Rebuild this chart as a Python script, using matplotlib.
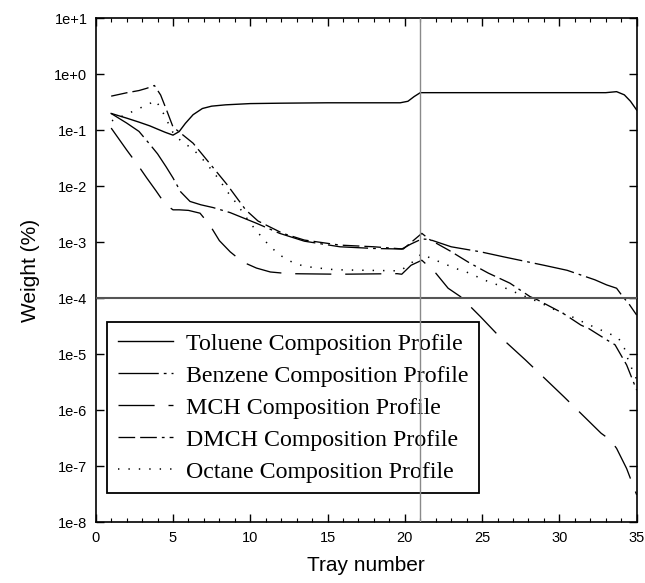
import numpy as np
import matplotlib
matplotlib.use("Agg")
import matplotlib.pyplot as plt

plt.rcParams['lines.scale_dashes'] = False

# ---------------- data (tray, log10 weight) ----------------
tol_x = [1, 2, 2.8, 3.5, 4.0, 4.5, 5.0, 5.4, 5.8, 6.3, 6.9, 7.5, 8.4, 10, 12, 15, 18, 19.7, 20.2, 20.6, 21, 22, 25, 30, 33, 33.7, 34.2, 34.6, 35]
tol_v = [0.20, 0.165, 0.14, 0.12, 0.105, 0.092, 0.082, 0.095, 0.133, 0.19, 0.245, 0.27, 0.285, 0.30, 0.305, 0.31, 0.31, 0.31, 0.33, 0.40, 0.47, 0.47, 0.47, 0.47, 0.47, 0.49, 0.43, 0.33, 0.23]

ben_x = [1.0, 2.0, 2.8, 3.5, 4.0, 4.55, 5.0, 5.5, 6.1, 6.8, 7.6, 8.7, 10.4, 11.9, 13.5, 15.8, 18, 19.8, 20.4, 21.1, 21.6, 23.0, 24.9, 26.4, 29, 30.5, 32.3, 33.05, 33.7, 34.1, 34.5, 35]
ben_log = [-0.70, -0.87, -1.02, -1.25, -1.42, -1.65, -1.85, -2.10, -2.27, -2.33, -2.38, -2.47, -2.66, -2.84, -2.98, -3.08, -3.11, -3.12, -3.03, -2.94, -2.95, -3.08, -3.17, -3.26, -3.41, -3.50, -3.67, -3.76, -3.82, -3.97, -4.10, -4.30]

mch_x = [1.0, 2.0, 2.8, 3.3, 3.9, 4.3, 4.7, 5.0, 5.4, 6.0, 6.75, 7.4, 8.0, 8.7, 9.5, 10.4, 11.3, 12.5, 15.8, 19.5, 19.8, 20.4, 21.1, 22.0, 22.8, 23.6, 24.9, 25.9, 27.8, 30.3, 32.7, 33.3, 33.7, 34.35, 35]
mch_log = [-0.96, -1.35, -1.65, -1.85, -2.08, -2.24, -2.36, -2.42, -2.42, -2.43, -2.48, -2.70, -2.97, -3.17, -3.35, -3.46, -3.53, -3.56, -3.57, -3.56, -3.57, -3.41, -3.32, -3.55, -3.82, -3.97, -4.33, -4.62, -5.10, -5.76, -6.41, -6.53, -6.68, -7.04, -7.51]

dmch_x = [1.0, 2.0, 2.8, 3.3, 3.8, 4.2, 4.6, 5.0, 6.3, 7.4, 8.5, 9.7, 10.5, 12.1, 13.5, 15.8, 18, 19.9, 20.5, 21.1, 21.6, 22.9, 24.2, 25.4, 26.8, 28.1, 28.6, 30.25, 31.4, 31.9, 33.05, 33.6, 34.35, 35]
dmch_log = [-0.39, -0.33, -0.29, -0.25, -0.20, -0.37, -0.65, -0.94, -1.23, -1.60, -1.97, -2.42, -2.62, -2.84, -2.96, -3.05, -3.08, -3.12, -2.98, -2.84, -2.95, -3.15, -3.37, -3.55, -3.73, -3.97, -4.03, -4.27, -4.48, -4.54, -4.74, -4.83, -5.19, -5.64]

oct_x = [1.05, 2.5, 3.2, 3.9, 4.33, 4.65, 5.0, 5.58, 6.23, 6.87, 7.48, 8.04, 8.47, 9.01, 9.55, 10.03, 10.63, 11.23, 11.92, 12.68, 13.39, 14.08, 15.48, 17.5, 19.7, 20.4, 21.1, 21.7, 22.5, 23.2, 23.9, 24.64, 25.3, 26.0, 26.7, 27.45, 28.1, 28.85, 29.5, 30.25, 30.9, 31.65, 32.3, 33.05, 33.8, 34.2, 34.45, 34.77, 35]
oct_log = [-0.83, -0.65, -0.56, -0.47, -0.67, -0.85, -1.04, -1.21, -1.32, -1.50, -1.70, -1.90, -2.08, -2.27, -2.48, -2.67, -2.87, -3.06, -3.23, -3.35, -3.42, -3.45, -3.49, -3.50, -3.51, -3.375, -3.20, -3.29, -3.375, -3.46, -3.52, -3.61, -3.69, -3.76, -3.84, -3.93, -4.00, -4.09, -4.18, -4.27, -4.34, -4.44, -4.52, -4.61, -4.70, -4.89, -5.10, -5.31, -5.45]

labels = ["Toluene Composition Profile", "Benzene Composition Profile",
          "MCH Composition Profile", "DMCH Composition Profile",
          "Octane Composition Profile"]

ytick_vals = [1e1, 1e0, 1e-1, 1e-2, 1e-3, 1e-4, 1e-5, 1e-6, 1e-7, 1e-8]
ytick_labels = ["1e+1", "1e+0", "1e-1", "1e-2", "1e-3", "1e-4", "1e-5", "1e-6", "1e-7", "1e-8"]
xtick_vals = [0, 5, 10, 15, 20, 25, 30, 35]

# ---------------- figure ----------------
fig = plt.figure(figsize=(6.45, 5.83), dpi=100)
ax = fig.add_axes([0.1484, 0.1041, 0.8387, 0.8645])

lw = 0.95
ax.plot(tol_x, tol_v, color='black', lw=1.0, label=labels[0])
ax.plot(ben_x, 10 ** np.array(ben_log), color='black', lw=lw,
        dashes=(29, 3.6, 2, 3.6), label=labels[1])
ax.plot(mch_x, 10 ** np.array(mch_log), color='black', lw=lw,
        dashes=(26, 10), label=labels[2])
ax.plot(dmch_x, 10 ** np.array(dmch_log), color='black', lw=lw,
        dashes=(12, 3.6, 12, 3.6, 2, 3.6), label=labels[3])
ax.plot(oct_x, 10 ** np.array(oct_log), color='black', lw=1.1,
        dashes=(1, 6.5), label=labels[4])

ax.axhline(1e-4, color='#555555', lw=1.5, zorder=3)
ax.axvline(21, color='#8a8a8a', lw=1.0, zorder=6)

ax.set_yscale('log')
ax.set_ylim(1e-8, 1e1)
ax.set_xlim(0, 35)
ax.set_yticks(ytick_vals)
ax.set_yticklabels(ytick_labels)
ax.yaxis.set_minor_locator(matplotlib.ticker.NullLocator())
ax.set_xticks(xtick_vals)
ax.set_xticks(np.arange(0, 36, 1), minor=True)

ax.tick_params(which='major', direction='in', length=6, width=1.0,
               top=True, right=True, labelsize=10.5, pad=6)
ax.tick_params(which='minor', direction='in', length=3, width=0.8,
               top=True, right=True)
for lab in ax.get_xticklabels() + ax.get_yticklabels():
    lab.set_fontfamily('Liberation Sans')
for s in ax.spines.values():
    s.set_linewidth(1.2)

ax.set_xlabel("Tray number", fontsize=15, fontfamily='Liberation Sans', labelpad=8)
ax.set_ylabel("Weight (%)", fontsize=15, fontfamily='Liberation Sans', labelpad=10)

leg = ax.legend(loc='upper left', bbox_to_anchor=(0.0209, 0.397),
                borderaxespad=0, frameon=True, fancybox=False,
                framealpha=1, edgecolor='black', handlelength=2.3,
                handletextpad=0.55, borderpad=0.45, labelspacing=0.43,
                prop={'family': 'Liberation Serif', 'size': 17.2})
leg.get_frame().set_linewidth(1.3)

fig.savefig("out.png", dpi=100)
